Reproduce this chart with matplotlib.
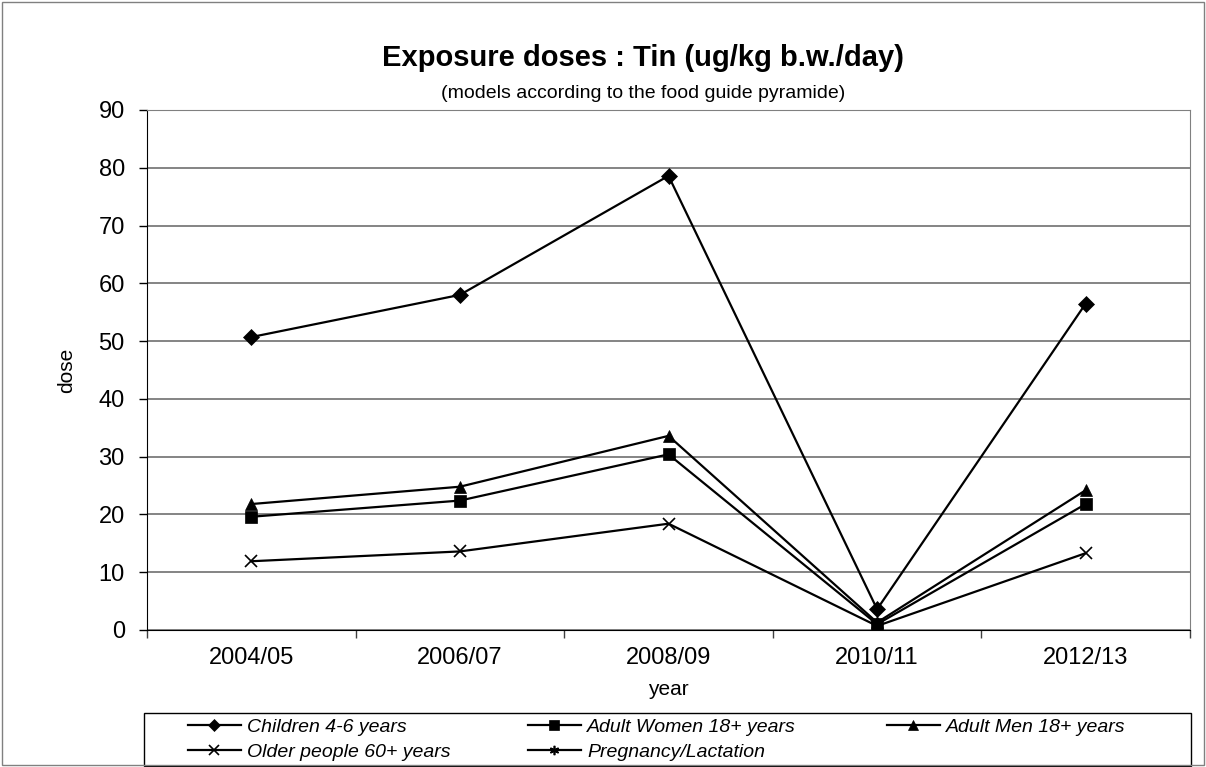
import numpy as np
import matplotlib
matplotlib.use('Agg')
import matplotlib.pyplot as plt
from matplotlib.patches import Rectangle

plt.rcParams['font.family'] = ['Liberation Sans', 'DejaVu Sans']

years = ['2004/05', '2006/07', '2008/09', '2010/11', '2012/13']
children = [50.7, 58.0, 78.6, 3.6, 56.5]
women = [19.6, 22.4, 30.4, 1.0, 21.8]
men = [21.8, 24.8, 33.6, 1.3, 24.2]
older = [11.9, 13.6, 18.4, 0.7, 13.3]
pregnancy = [np.nan] * 5

series = [
    ('Children 4-6 years', children, 'D', 8),
    ('Adult Women 18+ years', women, 's', 9),
    ('Adult Men 18+ years', men, '^', 9),
    ('Older people 60+ years', older, 'x', 9),
    ('Pregnancy/Lactation', pregnancy, (6, 2, 0), 9),
]

W, H = 1206, 767
fig = plt.figure(figsize=(W / 100, H / 100), dpi=100)
ax = fig.add_axes([147 / W, 1 - 630 / H, (1190 - 147) / W, (630 - 110) / H])

x = np.arange(len(years))
handles = []
for name, vals, mk, ms in series:
    thin = mk == 'x' or isinstance(mk, tuple)
    h, = ax.plot(x, vals, color='black', lw=1.6, marker=mk, markersize=ms,
                 markeredgewidth=1.2 if thin else 0.5, label=name)
    handles.append(h)

ax.set_xlim(-0.5, len(years) - 0.5)
ax.set_ylim(0, 90)
ax.set_yticks(range(0, 91, 10))
ax.yaxis.grid(True, color='#707070', lw=1.2)
ax.set_axisbelow(True)
ax.set_xticks(x)
ax.set_xticklabels(years, fontsize=17)
ax.set_xticks(np.arange(-0.5, len(years), 1), minor=True)
ax.tick_params(axis='x', which='major', length=0, pad=12)
ax.tick_params(axis='x', which='minor', length=6, width=1, color='#404040')
ax.tick_params(axis='y', labelsize=17, length=6, width=1, pad=10)
for s in ['top', 'right']:
    ax.spines[s].set_color('#808080')
ax.spines['left'].set_color('black')
ax.spines['bottom'].set_color('black')

ax.set_ylabel('dose', fontsize=15, labelpad=16)
ax.set_xlabel('year', fontsize=15, labelpad=8)

fig.text(643 / W, 1 - 66 / H, 'Exposure doses : Tin (ug/kg b.w./day)', ha='center', va='baseline',
         fontsize=21, fontweight='bold')
fig.text(643 / W, 1 - 98 / H, '(models according to the food guide pyramide)', ha='center', va='baseline',
         fontsize=14)

# legend: frame plus three columns filled row by row
fig.patches.append(Rectangle((144 / W, 1 - 766 / H), (1191 - 144) / W, (766 - 713) / H,
                             transform=fig.transFigure, fill=False, edgecolor='black', lw=1))
columns = [([handles[0], handles[3]], 188), ([handles[1], handles[4]], 528), ([handles[2]], 887)]
for hs, xpx in columns:
    fig.legend(handles=hs, loc='upper left', bbox_to_anchor=(xpx / W, 1 - 718 / H),
               frameon=False, prop={'style': 'italic', 'size': 14}, handlelength=2.7,
               handletextpad=0.35, borderpad=0, borderaxespad=0, labelspacing=0.4,
               markerscale=0.75)

fig.patches.append(Rectangle((0.002, 0.002), 0.996, 0.996, transform=fig.transFigure,
                             fill=False, edgecolor='#808080', lw=1))

fig.savefig('out.png', dpi=100)
